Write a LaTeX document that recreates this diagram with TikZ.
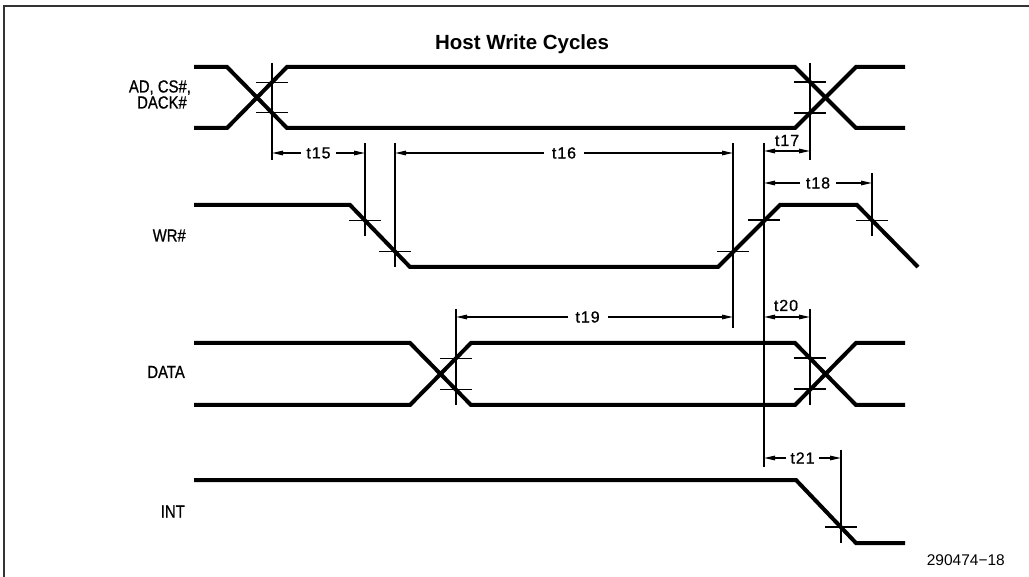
\documentclass[tikz,border=0pt]{standalone}
\usepackage{fontspec}
\setmainfont{Liberation Sans}
\newfontfamily\sigfont[FakeStretch=0.85,FakeBold=0.8]{Liberation Sans}
\newfontfamily\tfont[LetterSpace=6,FakeBold=0.8]{Liberation Sans}
\usetikzlibrary{arrows.meta}
\begin{document}
\begin{tikzpicture}[x=1pt,y=-1pt,
  wave/.style={line width=4pt},
  refl/.style={line width=1.3pt},
  xmark/.style={line width=1.3pt},
  dim/.style={line width=1.3pt,{Triangle[length=11pt,width=4.5pt]}-{Triangle[length=11pt,width=4.5pt]}},
  tlbl/.style={fill=white,inner xsep=6pt,inner ysep=1pt,font=\tfont\fontsize{16}{17}\selectfont},
  tabove/.style={inner sep=0pt,anchor=base,font=\tfont\fontsize{16}{17}\selectfont},
  sname/.style={inner sep=0pt,anchor=base east,font=\sigfont\fontsize{17.5}{19}\selectfont},
]
\useasboundingbox (0,0) rectangle (1029,577);
% frame
\draw[line width=2pt,black!80] (3.5,577) -- (3.5,6) -- (1029,6);
% title
\node[anchor=base,inner sep=0pt,font=\bfseries\fontsize{20.5}{22}\selectfont] (title) at (522,50) {Host Write Cycles};
% signal names
\node[sname] (nad) at (187,92.5) {AD, CS\#\rlap{,}};
\node[sname] (ndack) at (187,108.5) {DACK\#};
\node[sname] (nwr) at (186,241.5) {WR\#};
\node[sname] (ndata) at (185,378) {DATA};
\node[sname] (nint) at (185,517.5) {INT};
\node[anchor=base east,inner sep=0pt,font=\fontsize{15.5}{17}\selectfont] (fig) at (1005,565) {290474\textminus 18};
% waveforms
\draw[wave] (194,67) -- (227,67) -- (287,128) -- (795,128) -- (856,67) -- (905,67);
\draw[wave] (194,128) -- (227,128) -- (287,67) -- (795,67) -- (856,128) -- (905,128);
\draw[wave] (194,205) -- (350,205) -- (410,267) -- (718,267) -- (780,205) -- (857,205) -- (918,267);
\draw[wave] (194,343) -- (410,343) -- (471,405) -- (795,405) -- (856,343) -- (905,343);
\draw[wave] (194,405) -- (410,405) -- (471,343) -- (795,343) -- (856,405) -- (905,405);
\draw[wave] (194,480) -- (796,480) -- (856,543) -- (905,543);
% crossing points
\coordinate (a1) at (272,82.25);
\coordinate (a2) at (272,112.75);
\coordinate (a3) at (810,82);
\coordinate (a4) at (810,113);
\coordinate (w1) at (365,220.5);
\coordinate (w2) at (395,251.5);
\coordinate (w3) at (733,251.5);
\coordinate (w4) at (764,220);
\coordinate (w5) at (872,220.5);
\coordinate (d1) at (456,358.2);
\coordinate (d2) at (456,389.8);
\coordinate (d3) at (810,358);
\coordinate (d4) at (810,389);
\coordinate (i1) at (841,527);
% crosshair marks
\foreach \p in {a1,a2,a3,a4,w1,w2,w3,w4,w5,d1,d2,d3,d4,i1}
  \draw[xmark] (\p) ++(-16,0) -- ++(32,0);
% reference lines
\draw[refl] (a1 |- 0,63) -- (a1 |- 0,160);
\draw[refl] (a3 |- 0,63) -- (a3 |- 0,160);
\draw[refl] (w1 |- 0,143) -- (w1 |- 0,236);
\draw[refl] (w2 |- 0,143) -- (w2 |- 0,267);
\draw[refl] (w3 |- 0,143) -- (w3 |- 0,328);
\draw[refl] (w4 |- 0,143) -- (w4 |- 0,467);
\draw[refl] (w5 |- 0,173) -- (w5 |- 0,236);
\draw[refl] (d1 |- 0,309) -- (d1 |- 0,405);
\draw[refl] (d3 |- 0,309) -- (d3 |- 0,405);
\draw[refl] (i1 |- 0,450) -- (i1 |- 0,543);
% dimension arrows
\draw[dim] (a1 |- 0,153) -- (w1 |- 0,153) node[tlbl,midway,inner xsep=5pt] (t15) {t15};
\draw[dim] (w2 |- 0,153) -- (w3 |- 0,153) node[tlbl,midway,inner xsep=8pt] (t16) {t16};
\draw[dim] (w4 |- 0,151) -- (a3 |- 0,151);
\node[tabove] (t17) at (787,146) {t17};
\draw[dim] (w4 |- 0,183) -- (w5 |- 0,183) node[tlbl,midway] (t18) {t18};
\draw[dim] (d1 |- 0,317) -- (w3 |- 0,317) node[tlbl,pos=0.475,inner xsep=8pt] (t19) {t19};
\draw[dim] (w4 |- 0,317) -- (d3 |- 0,317);
\node[tabove] (t20) at (786,311) {t20};
\draw[dim] (w4 |- 0,458) -- (i1 |- 0,458) node[tlbl,midway,inner xsep=4pt] (t21) {t21};
\end{tikzpicture}
\end{document}
